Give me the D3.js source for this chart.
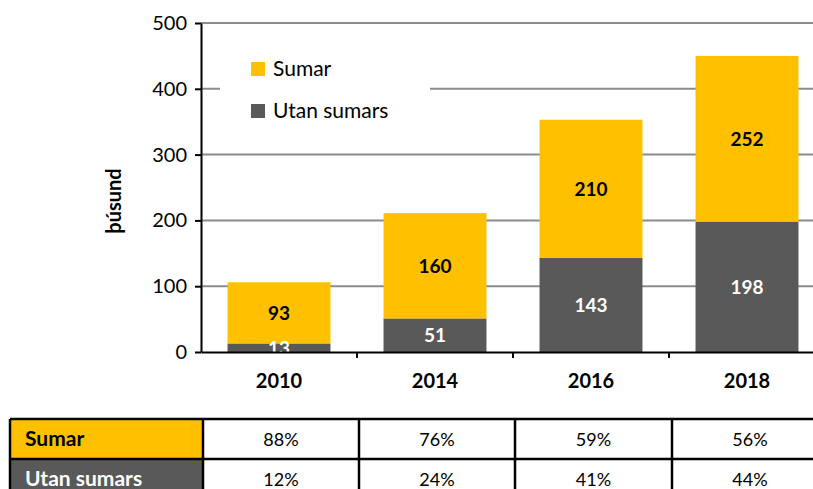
<!DOCTYPE html>
<html>
<head>
<meta charset="utf-8">
<script src="https://cdn.jsdelivr.net/npm/d3@7"></script>
<style>
  body { margin: 0; background: #fff; }
  text { font-family: Lato, "Open Sans", sans-serif; }
</style>
</head>
<body>
<script>
// chart data
var years = ["2010", "2014", "2016", "2018"];
var utan = [13, 51, 143, 198];
var sumar = [93, 160, 210, 252];
var pctSumar = ["88%", "76%", "59%", "56%"];
var pctUtan = ["12%", "24%", "41%", "44%"];
var yTicks = [0, 100, 200, 300, 400, 500];

var yellow = "#FFC000", grey = "#595959";

var svg = d3.select("body")
            .append("svg")
            .attr("width", 813)
            .attr("height", 489);

// scales
var x = d3.scaleBand().domain(years).range([201, 825]).paddingInner(0.34).paddingOuter(0.17);
var y = d3.scaleLinear().domain([0, 500]).range([352, 23]);

// gridlines
svg.append("g")
  .selectAll("line")
  .data(yTicks.slice(1))
  .enter()
  .append("line")
  .attr("x1", 201).attr("x2", 813)
  .attr("y1", function(d) { return y(d); })
  .attr("y2", function(d) { return y(d); })
  .attr("stroke", "#8c8c8c")
  .attr("stroke-width", 2);

// stacked bars
var stack = years.map(function(yr, i) {
  return {year: yr, utan: utan[i], sumar: sumar[i]};
});

var bars = svg.append("g");
bars.selectAll(".u")
  .data(stack).enter().append("rect")
  .attr("x", function(d) { return x(d.year); })
  .attr("width", x.bandwidth())
  .attr("y", function(d) { return y(d.utan); })
  .attr("height", function(d) { return y(0) - y(d.utan); })
  .attr("fill", grey);
bars.selectAll(".s")
  .data(stack).enter().append("rect")
  .attr("x", function(d) { return x(d.year); })
  .attr("width", x.bandwidth())
  .attr("y", function(d) { return y(d.utan + d.sumar); })
  .attr("height", function(d) { return y(d.utan) - y(d.utan + d.sumar); })
  .attr("fill", yellow);

// value labels
bars.selectAll(".lu")
  .data(stack).enter().append("text")
  .attr("x", function(d) { return x(d.year) + x.bandwidth() / 2; })
  .attr("y", function(d) { return y(d.utan / 2) + 7; })
  .attr("text-anchor", "middle")
  .style("font-size", "19px").style("font-weight", "bold")
  .attr("fill", "#fff")
  .text(function(d) { return d.utan; });
bars.selectAll(".ls")
  .data(stack).enter().append("text")
  .attr("x", function(d) { return x(d.year) + x.bandwidth() / 2; })
  .attr("y", function(d) { return y(d.utan + d.sumar / 2) + 7; })
  .attr("text-anchor", "middle")
  .style("font-size", "19px").style("font-weight", "bold")
  .attr("fill", "#000")
  .text(function(d) { return d.sumar; });

// legend (white box hides gridline)
var lg = svg.append("g");
lg.append("rect").attr("x", 220).attr("y", 45).attr("width", 210).attr("height", 85).attr("fill", "#fff");
lg.append("rect").attr("x", 251).attr("y", 62).attr("width", 14).attr("height", 14).attr("fill", yellow);
lg.append("rect").attr("x", 251).attr("y", 104).attr("width", 14).attr("height", 14).attr("fill", grey);
lg.append("text").attr("x", 273).attr("y", 76).style("font-size", "21px").text("Sumar");
lg.append("text").attr("x", 273).attr("y", 118).style("font-size", "21px").text("Utan sumars");

// axes
var yAxis = svg.append("g")
  .attr("transform", "translate(201,0)")
  .call(d3.axisLeft(y).tickValues(yTicks).tickSize(6).tickSizeOuter(0).tickPadding(8));
yAxis.select(".domain").attr("stroke", "#000").attr("stroke-width", 2);
yAxis.selectAll(".tick line").attr("stroke", "#000").attr("stroke-width", 2);
yAxis.selectAll("text").style("font-size", "20px").attr("fill", "#000");

var xAxis = svg.append("g")
  .attr("transform", "translate(0,352)")
  .call(d3.axisBottom(x).tickSize(0).tickPadding(22));
xAxis.select(".domain").attr("stroke", "#000").attr("stroke-width", 2);
xAxis.selectAll("text").style("font-size", "20px").style("font-weight", "bold").attr("fill", "#000");
// category boundary ticks
svg.append("g").selectAll("line")
  .data(years.slice(1)).enter().append("line")
  .attr("x1", function(d) { return x(d) - x.step() * x.paddingInner() / 2; })
  .attr("x2", function(d) { return x(d) - x.step() * x.paddingInner() / 2; })
  .attr("y1", 352).attr("y2", 358)
  .attr("stroke", "#000").attr("stroke-width", 2);

// y axis title
svg.append("text")
  .attr("transform", "translate(121,201) rotate(-90)")
  .attr("text-anchor", "middle")
  .style("font-size", "20px").style("font-weight", "bold")
  .text("þúsund");

// table
var rows = [
  {name: "Sumar", fill: yellow, color: "#000", vals: pctSumar},
  {name: "Utan sumars", fill: grey, color: "#fff", vals: pctUtan}
];
var colX = [10, 203, 359, 515, 672, 828];
var rowY = [419, 459, 499];
var tbl = svg.append("g");
rows.forEach(function(r, i) {
  tbl.append("rect")
    .attr("x", colX[0]).attr("y", rowY[i])
    .attr("width", colX[1] - colX[0]).attr("height", rowY[i + 1] - rowY[i])
    .attr("fill", r.fill);
  tbl.append("text")
    .attr("x", colX[0] + 15).attr("y", rowY[i] + 27)
    .style("font-size", "21px").style("font-weight", "bold")
    .attr("fill", r.color).text(r.name);
  r.vals.forEach(function(v, j) {
    tbl.append("text")
      .attr("x", (colX[j + 1] + colX[j + 2]) / 2).attr("y", rowY[i] + 27)
      .attr("text-anchor", "middle")
      .style("font-size", "18px").text(v);
  });
});
rowY.forEach(function(yy) {
  tbl.append("line").attr("x1", colX[0]).attr("x2", 828).attr("y1", yy).attr("y2", yy)
    .attr("stroke", "#000").attr("stroke-width", 2.5);
});
colX.forEach(function(xx) {
  tbl.append("line").attr("x1", xx).attr("x2", xx).attr("y1", rowY[0]).attr("y2", 499)
    .attr("stroke", "#000").attr("stroke-width", 2.5);
});
</script>
</body>
</html>
